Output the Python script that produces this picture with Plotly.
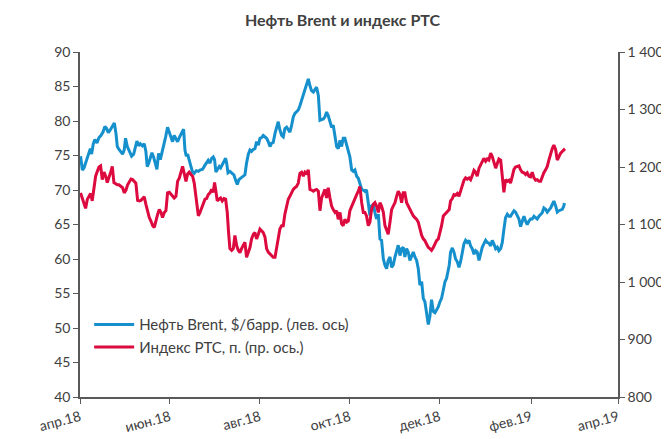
import pandas as pd
import plotly.graph_objects as go

# ---- data (days counted from 1 Apr 2018) ----
brent_day = [0.4, 1.6, 2.7, 3.8, 5.0, 6.1, 7.0, 7.9, 9.0, 10.1, 11.5, 12.9, 14.2, 15.6, 16.9, 18.1, 19.2, 20.5,
             21.9, 23.3, 24.4, 25.3, 26.7, 27.8, 28.9, 30.0, 30.9, 32.1, 33.4, 35.0, 36.4, 37.7, 38.6, 39.8, 40.9,
             42.3, 43.6, 44.7, 45.6, 46.5, 47.7, 48.8, 49.9, 51.1, 52.2, 53.3, 54.5, 55.8, 56.9, 58.1, 59.4, 60.6,
             61.7, 62.8, 63.9, 65.1, 66.2, 67.6, 69.0, 70.3, 71.2, 72.1, 73.0, 74.1, 75.3, 76.4, 77.5, 78.9,
             80.3, 81.4, 83.2, 84.8, 85.9, 87.0, 88.2, 89.3, 90.4, 91.3, 92.2, 93.4, 94.5, 95.4, 96.5, 97.7, 98.8,
             99.5, 100.4, 101.7, 103.1, 104.4, 105.6, 106.7, 107.8, 109.0, 110.3, 111.9, 113.0, 114.2, 115.3,
             116.4, 117.6, 118.7, 119.8, 121.0, 122.1, 123.2, 124.3, 125.5, 126.6, 127.7, 128.9, 130.0, 131.1,
             132.3, 133.4, 134.5, 135.6, 136.8, 137.9, 139.0, 140.2, 141.3, 142.4, 143.6, 144.7, 145.8, 146.9,
             148.1, 149.2, 150.3, 151.5, 152.6, 153.7, 154.9, 156.0, 157.1, 158.3, 159.4, 160.5, 161.7, 162.8,
             163.9, 165.1, 166.2, 167.3, 168.4, 169.6, 170.7, 171.8, 173.0, 174.1, 175.2, 176.4, 177.5, 178.6,
             179.7, 180.9, 182.0, 183.1, 184.3, 185.4, 186.5, 187.7, 188.8, 189.9, 191.1, 192.2, 193.3, 194.4,
             195.6, 196.7, 197.8, 199.0, 200.1, 201.2, 202.4, 203.5, 204.6, 205.8, 206.9, 208.0, 209.1, 210.3,
             211.4, 212.5, 213.7, 214.8, 215.9, 217.1, 218.2, 219.3, 220.4, 221.6, 222.7, 223.8, 225.0, 226.1,
             227.2, 228.4, 229.5, 230.6, 231.8, 232.9, 234.0, 235.1, 236.3, 237.4, 238.5, 239.7, 240.8, 241.9,
             243.1, 244.2, 245.3, 246.5, 247.6, 248.7, 250.5, 251.4, 252.6, 253.7, 254.8, 256.0, 257.1, 258.2,
             259.4, 260.5, 261.6, 262.7, 263.9, 265.0, 266.1, 267.3, 268.4, 269.5, 270.7, 271.8, 272.9, 274.0,
             275.2, 276.3, 277.4, 278.6, 279.7, 280.8, 282.0, 283.1, 284.2, 285.4, 286.5, 287.6, 288.7, 289.9,
             291.0, 292.1, 293.3, 294.4, 295.5, 296.7, 297.8, 298.9, 300.0, 301.2, 302.3, 303.4, 304.6, 305.7,
             306.8, 308.0, 309.1, 310.2, 311.4, 312.5, 313.6, 314.7, 315.9, 317.0, 318.1, 319.3, 320.4, 321.5,
             322.7, 323.8, 324.9, 326.1, 327.2, 328.3, 328.6]
brent_usd = [74.9, 72.9, 73.2, 73.9, 74.6, 75.6, 76.0, 75.2, 76.7, 77.3, 76.8, 77.6, 77.9, 78.4, 79.2, 78.9, 78.3, 78.7,
             79.2, 79.7, 78.2, 76.3, 75.8, 75.4, 75.2, 75.8, 77.5, 76.3, 75.6, 74.9, 75.2, 76.3, 77.1, 76.4, 76.7,
             76.4, 76.7, 75.6, 73.4, 73.8, 74.8, 75.4, 74.8, 73.9, 73.0, 75.3, 74.4, 75.6, 76.5, 77.7, 79.1, 78.4,
             77.5, 77.0, 77.9, 77.5, 77.0, 77.7, 78.2, 78.8, 75.8, 74.9, 75.2, 74.1, 73.4, 72.6, 72.4, 72.8,
             72.7, 72.9, 73.0, 73.6, 74.0, 74.3, 73.9, 74.6, 74.8, 74.4, 72.6, 73.0, 73.4, 73.2, 73.6, 74.1, 74.6,
             73.9, 72.5, 72.7, 72.5, 72.2, 71.4, 70.8, 71.5, 71.7, 72.0, 72.2, 73.9, 75.2, 75.8,
             75.6, 75.9, 76.0, 77.0, 76.5, 77.5, 77.6, 77.9, 77.7, 77.5, 77.0, 76.3, 76.8, 76.9,
             78.2, 79.1, 79.9, 78.7, 77.9, 77.7, 78.9, 79.1, 78.7, 78.4, 79.4, 80.6, 81.1, 81.4,
             81.6, 82.2, 82.9, 83.7, 84.4, 85.1, 86.1, 85.1, 84.4, 84.2, 84.6, 84.9, 83.7, 80.1,
             80.2, 80.3, 80.6, 81.3, 80.8, 79.9, 79.1, 79.4, 77.5, 76.3, 76.0, 77.2, 76.3, 77.5,
             77.5, 76.5, 75.8, 74.8, 72.9, 72.7, 72.9, 72.0, 71.7, 71.0, 70.1, 70.0, 69.8, 70.0,
             68.2, 66.3, 67.7, 67.9, 66.7, 65.8, 66.5, 62.9, 62.7, 60.0, 59.1, 58.6, 59.8, 60.3,
             58.8, 59.1, 60.3, 61.2, 62.0, 60.5, 61.5, 61.7, 60.3, 61.5, 61.0, 59.8, 60.3, 61.0,
             60.3, 59.8, 58.6, 56.2, 56.7, 54.3, 53.8, 52.4, 50.5, 51.7, 54.1, 52.4, 52.2, 52.6,
             53.1, 53.8, 54.3, 55.5, 56.7, 57.2, 59.1, 61.0, 61.6, 61.0, 60.0, 59.6, 58.8, 59.6,
             61.0, 62.2, 62.7, 62.4, 62.7, 61.9, 61.5, 60.7, 61.2, 61.0, 59.8, 61.0, 61.7, 62.2,
             62.7, 62.4, 62.3, 61.9, 62.7, 62.2, 61.5, 61.7, 61.2, 61.5, 62.4, 64.3, 66.0, 66.5,
             66.2, 66.2, 66.7, 67.0, 66.8, 66.2, 65.8, 64.7, 65.5, 66.2, 65.5, 65.0, 65.5, 65.8,
             65.8, 66.2, 66.0, 65.8, 66.2, 66.5, 66.7, 67.4, 67.2, 66.8, 67.1, 67.4, 67.9, 68.4,
             67.7, 66.8, 67.0, 67.1, 67.2, 67.7, 68.1]

rts_day = [0.4, 1.6, 2.7, 3.8, 5.0, 6.1, 7.2, 8.3, 9.5, 10.6, 11.7, 12.9, 14.0, 15.1, 16.3, 17.4, 18.5, 19.6, 20.8,
           21.9, 23.0, 24.2, 25.3, 26.4, 27.8, 28.9, 30.0, 31.2, 32.3, 33.4, 34.6, 35.7, 36.8, 37.9, 39.1, 40.2,
           41.3, 42.5, 43.6, 44.7, 45.9, 47.0, 48.1, 49.3, 50.4, 51.5, 52.7, 53.8, 54.9, 56.0, 57.2, 58.3, 59.4,
           60.6, 61.7, 62.8, 63.9, 65.1, 66.2, 67.4, 68.5, 69.6, 70.7, 71.9, 73.0, 74.1, 75.3, 76.4, 77.5, 78.7,
           80.3, 81.4, 82.5, 83.6, 84.8, 85.9, 87.0, 88.2, 89.3, 90.4, 91.3, 92.2, 93.1, 94.3, 95.4, 96.5, 97.7,
           98.8, 99.9, 100.8, 101.7, 102.9, 104.0, 105.1, 106.3, 107.4, 108.5, 109.6, 110.8, 111.9, 113.0, 114.2,
           115.3, 116.4, 117.6, 118.7, 119.8, 121.0, 122.1, 123.2, 124.3, 125.5, 126.6, 127.7, 128.9, 130.0,
           131.1, 132.3, 133.4, 134.5, 135.6, 136.8, 137.9, 139.0, 140.2, 141.3, 142.4, 143.6, 144.7, 145.8,
           146.9, 148.1, 149.2, 150.3, 151.5, 152.6, 153.7, 154.9, 156.0, 157.1, 158.3, 159.4, 160.5, 161.7,
           162.8, 163.9, 165.1, 166.2, 167.3, 168.4, 169.6, 170.7, 171.8, 173.0, 174.1, 175.2, 176.4, 177.5,
           178.6, 179.7, 180.9, 182.0, 183.1, 184.3, 185.4, 186.5, 187.7, 188.8, 189.9, 191.1, 192.2, 193.3,
           194.4, 195.6, 196.7, 197.8, 199.0, 200.1, 201.2, 202.4, 203.5, 204.6, 205.8, 206.9, 208.0, 209.1,
           210.3, 211.4, 212.5, 213.7, 214.8, 215.9, 217.1, 218.2, 219.3, 220.4, 221.6, 222.7, 223.8, 225.0,
           226.1, 227.2, 228.4, 229.5, 230.6, 231.8, 232.9, 234.0, 235.1, 236.3, 237.4, 238.5, 239.7, 240.8,
           241.9, 243.1, 244.2, 245.3, 246.5, 247.6, 248.7, 249.4, 250.5, 251.4, 252.6, 253.7, 254.8, 256.0,
           257.1, 258.2, 259.4, 260.5, 261.6, 262.7, 263.9, 265.0, 266.1, 267.3, 268.4, 269.5, 270.7, 271.8,
           272.9, 274.0, 275.2, 276.3, 277.4, 278.6, 279.7, 280.8, 282.0, 283.1, 284.2, 285.4, 286.5, 287.6,
           288.7, 289.9, 291.0, 292.1, 293.3, 294.4, 295.5, 296.7, 297.8, 298.9, 300.0, 301.2, 302.3, 303.4,
           304.6, 305.7, 306.8, 308.0, 309.1, 310.2, 311.4, 312.5, 313.6, 314.7, 315.9, 317.0, 318.1, 319.3,
           320.4, 321.5, 322.7, 323.8, 324.9, 326.1, 327.2, 328.3, 329.0]
rts_pts = [1155, 1146, 1138, 1128, 1144, 1149, 1154, 1141, 1161, 1184, 1192, 1200, 1202, 1178, 1191, 1184, 1173, 1184, 1191,
           1201, 1173, 1171, 1169, 1169, 1166, 1164, 1155, 1160, 1169, 1173, 1179, 1178, 1175, 1172, 1142, 1141,
           1142, 1146, 1148, 1135, 1121, 1112, 1106, 1098, 1095, 1109, 1118, 1126, 1121, 1112, 1121, 1124, 1155,
           1156, 1152, 1149, 1146, 1149, 1175, 1181, 1191, 1201, 1189, 1175, 1188, 1191, 1187, 1184, 1172, 1146,
           1115, 1121, 1129, 1138, 1144, 1145, 1152, 1155, 1161, 1156, 1173, 1158, 1141, 1144, 1146, 1141, 1145,
           1144, 1121, 1086, 1058, 1055, 1058, 1081, 1063, 1055, 1051, 1058, 1063, 1069, 1043, 1052,
           1060, 1075, 1083, 1086, 1075, 1083, 1092, 1089, 1086, 1078, 1058, 1052, 1049, 1046,
           1043, 1043, 1060, 1081, 1092, 1098, 1098, 1118, 1132, 1144, 1149, 1156, 1161, 1164,
           1166, 1172, 1189, 1191, 1184, 1191, 1189, 1195, 1161, 1160, 1158, 1160, 1161, 1158,
           1124, 1146, 1155, 1161, 1146, 1164, 1146, 1132, 1126, 1121, 1124, 1109, 1121, 1101,
           1098, 1109, 1104, 1106, 1124, 1132, 1138, 1144, 1152, 1158, 1166, 1138, 1121, 1121,
           1115, 1098, 1104, 1126, 1135, 1138, 1132, 1121, 1138, 1132, 1121, 1098, 1089, 1083,
           1104, 1126, 1132, 1138, 1149, 1158, 1152, 1138, 1155, 1155, 1138, 1132, 1126, 1121,
           1115, 1112, 1109, 1104, 1092, 1081, 1075, 1072, 1066, 1060, 1058, 1055, 1060, 1066,
           1072, 1075, 1086, 1098, 1115, 1118, 1120, 1122, 1126, 1141, 1145, 1152, 1151, 1154,
           1149, 1158, 1167, 1177, 1181, 1179, 1181, 1178, 1185, 1194, 1191, 1184, 1198, 1204,
           1212, 1215, 1210, 1214, 1212, 1224, 1218, 1210, 1198, 1206, 1214, 1212, 1189, 1156,
           1178, 1175, 1177, 1172, 1184, 1196, 1200, 1201, 1202, 1195, 1191, 1190, 1187, 1190,
           1184, 1183, 1191, 1181, 1177, 1178, 1175, 1175, 1184, 1190, 1195, 1201, 1212, 1224,
           1232, 1238, 1230, 1212, 1218, 1224, 1227, 1230, 1228]

start_date = "2018-04-01"
x_tick_dates = ["2018-04-01", "2018-06-01", "2018-08-01", "2018-10-01", "2018-12-01", "2019-02-01", "2019-04-01"]
x_tick_labels = ["апр.18", "июн.18", "авг.18", "окт.18", "дек.18", "фев.19", "апр.19"]
left_ticks = [40, 45, 50, 55, 60, 65, 70, 75, 80, 85, 90]
right_ticks = [800, 900, 1000, 1100, 1200, 1300, 1400]
right_tick_labels = ["800", "900", "1 000", "1 100", "1 200", "1 300", "1 400"]

t0 = pd.Timestamp(start_date)
brent_x = [t0 + pd.Timedelta(days=d) for d in brent_day]
rts_x = [t0 + pd.Timedelta(days=d) for d in rts_day]

BLUE = "#1590CC"
RED = "#DC0A3E"
AX = "#595959"
TXT = "#404040"
FONT = "Lato, 'Noto Sans', sans-serif"

fig = go.Figure()
fig.add_trace(go.Scatter(x=brent_x, y=brent_usd, mode="lines", name="Нефть Brent, $/барр. (лев. ось)",
                         line=dict(color=BLUE, width=3), yaxis="y"))
fig.add_trace(go.Scatter(x=rts_x, y=rts_pts, mode="lines", name="Индекс РТС, п. (пр. ось.)",
                         line=dict(color=RED, width=3), yaxis="y2"))

fig.update_layout(
    width=669, height=439,
    margin=dict(l=72, r=59, t=44, b=46),
    paper_bgcolor="white", plot_bgcolor="white",
    font=dict(family=FONT, size=14, color=TXT),
    title=dict(text="<b>Нефть Brent и индекс РТС</b>", x=0.5, xanchor="center", y=0.972, yanchor="middle",
               font=dict(family=FONT, size=16, color=TXT)),
    showlegend=True,
    legend=dict(x=0.017, y=0.257, xanchor="left", yanchor="top", bgcolor="rgba(0,0,0,0)",
                font=dict(family=FONT, size=15, color=TXT), tracegroupgap=0, itemwidth=40),
    xaxis=dict(type="date", range=[x_tick_dates[0], x_tick_dates[-1]], tickmode="array",
               tickvals=x_tick_dates, ticktext=x_tick_labels, tickangle=-15,
               showline=True, linecolor=AX, linewidth=1.5, ticks="outside", ticklen=5, tickcolor=AX,
               showgrid=False, zeroline=False, tickfont=dict(size=14, color=TXT)),
    yaxis=dict(range=[40, 90], tickmode="array", tickvals=left_ticks, showline=True, linecolor=AX,
               linewidth=1.5, ticks="outside", ticklen=5, tickcolor=AX, showgrid=False, zeroline=False,
               tickfont=dict(size=14, color=TXT)),
    yaxis2=dict(range=[800, 1400], overlaying="y", side="right", tickmode="array", tickvals=right_ticks,
                ticktext=right_tick_labels, showline=True, linecolor=AX, linewidth=1.5, ticks="outside",
                ticklen=5, tickcolor=AX, showgrid=False, zeroline=False, tickfont=dict(size=14, color=TXT)),
)

fig.write_html("out.html")
